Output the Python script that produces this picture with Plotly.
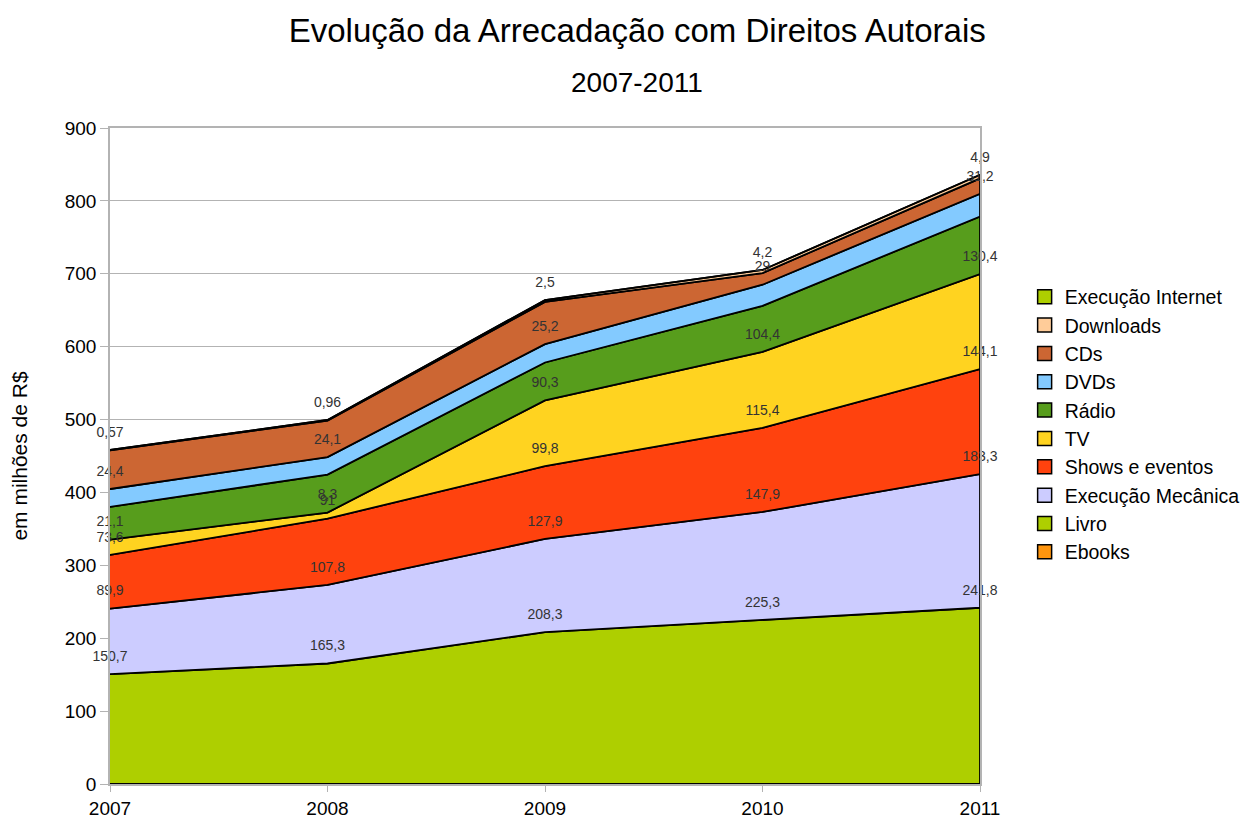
import numpy as np
import plotly.graph_objects as go

# anos e valores (milhões de R$), da base para o topo da pilha
years = [2007, 2008, 2009, 2010, 2011]

ebooks = [0, 0, 0, 0, 0]
livro = [150.7, 165.3, 208.3, 225.3, 241.8]
execucao_mecanica = [89.9, 107.8, 127.9, 147.9, 183.3]
shows_eventos = [73.6, 91, 99.8, 115.4, 144.1]
tv = [21.1, 8.3, 90.3, 104.4, 130.4]
radio = [45, 52, 52, 63, 79]
dvds = [24.4, 24.1, 25.2, 29, 31.2]
cds = [53, 50, 58, 16, 21]
downloads = [0.57, 0.96, 2.5, 4.2, 4.9]
execucao_internet = [0, 0, 0, 0, 0]

# (nome, valores, cor, mostrar rótulo)
series = [
    ("Ebooks", ebooks, "#FF950E", False),
    ("Livro", livro, "#AECF00", True),
    ("Execução Mecânica", execucao_mecanica, "#CCCCFF", True),
    ("Shows e eventos", shows_eventos, "#FF420E", True),
    ("TV", tv, "#FFD320", True),
    ("Rádio", radio, "#579D1C", False),
    ("DVDs", dvds, "#83CAFF", True),
    ("CDs", cds, "#CC6633", False),
    ("Downloads", downloads, "#FFCC99", True),
    ("Execução Internet", execucao_internet, "#AECF00", False),
]

FONT = "Liberation Sans, Arial, sans-serif"


def fmt(v):
    return f"{v:g}".replace(".", ",")


fig = go.Figure()

lower = np.zeros(len(years))
label_traces = []
for name, values, color, labelled in series:
    upper = lower + np.array(values, dtype=float)
    fig.add_trace(
        go.Scatter(
            x=years + years[::-1],
            y=list(upper) + list(lower[::-1]),
            fill="toself",
            fillcolor=color,
            mode="lines",
            line=dict(color="black", width=1.8),
            name=name,
            showlegend=False,
            hoverinfo="skip",
        )
    )
    if labelled:
        label_traces.append(
            go.Scatter(
                x=years,
                y=list(upper),
                mode="markers+text",
                marker=dict(size=14, opacity=0),
                text=[fmt(v) for v in values],
                textposition="top center",
                textfont=dict(size=14, color="#333333", family=FONT),
                cliponaxis=False,
                showlegend=False,
                hoverinfo="skip",
            )
        )
    lower = upper

for t in label_traces:
    fig.add_trace(t)

# legenda com quadrados, do topo da pilha para a base
for name, values, color, _ in reversed(series):
    fig.add_trace(
        go.Scatter(
            x=[None],
            y=[None],
            mode="markers",
            marker=dict(symbol="square", size=14, color=color,
                        line=dict(color="black", width=1.5)),
            name=name,
        )
    )

# a página tem 8 px de margem no body: figura um pouco menor que a janela
fig.update_layout(
    width=1251,
    height=815,
    margin=dict(l=102, r=279, t=120, b=39),
    paper_bgcolor="white",
    plot_bgcolor="white",
    font=dict(family=FONT, color="black"),
    title=dict(
        text="Evolução da Arrecadação com Direitos Autorais",
        font=dict(size=33, color="black"),
        x=0.503,
        xanchor="center",
        y=1 - 22 / 815,
        yanchor="middle",
    ),
    legend=dict(
        x=1.0513,
        xanchor="left",
        y=0.548,
        yanchor="middle",
        font=dict(size=19.5, color="black"),
        traceorder="normal",
        itemsizing="trace",
    ),
    annotations=[
        dict(
            text="2007-2011",
            xref="paper",
            yref="paper",
            x=(637 - 110) / 870,
            y=1 + (128 - 82) / 656,
            xanchor="center",
            yanchor="middle",
            showarrow=False,
            font=dict(size=28, color="black"),
        )
    ],
)

fig.update_xaxes(
    range=[2007, 2011],
    tickvals=years,
    ticktext=[str(y) for y in years],
    automargin=False,
    showgrid=False,
    zeroline=False,
    showline=True,
    linecolor="#b3b3b3",
    linewidth=1.5,
    mirror=True,
    ticks="outside",
    ticklen=6,
    tickcolor="#b3b3b3",
    tickfont=dict(size=19, color="black"),
)
fig.update_yaxes(
    range=[0, 900],
    dtick=100,
    automargin=False,
    showgrid=True,
    gridcolor="#b3b3b3",
    gridwidth=1,
    zeroline=False,
    showline=True,
    linecolor="#b3b3b3",
    linewidth=1.5,
    mirror=True,
    ticks="outside",
    ticklen=8,
    tickcolor="#b3b3b3",
    tickfont=dict(size=19, color="black"),
    title=dict(text="em milhões de R$", font=dict(size=21, color="black"), standoff=32),
)

fig.write_html("out.html")
